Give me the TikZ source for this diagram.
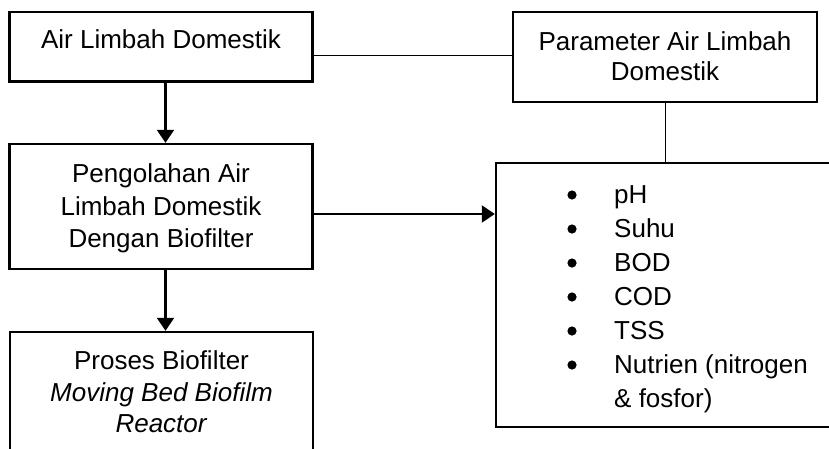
\documentclass[tikz,border=0pt]{standalone}
\usepackage{fontspec}
\setmainfont{Liberation Sans}
\usetikzlibrary{arrows.meta,calc}
\tikzset{
  box/.style={draw=black, line width=2.4pt, rectangle, inner sep=0pt, fill=none},
  txt/.style={inner sep=0pt, align=center, anchor=north},
  thinline/.style={draw=black, line width=1pt},
  arr/.style={draw=black, line width=2.2pt, -{Triangle[length=13pt,width=17pt]}},
  bul/.style={fill=black},
}
\begin{document}
\begin{tikzpicture}[x=1pt,y=-1pt]
\useasboundingbox (0,0) rectangle (829,448);
\clip (0,0) rectangle (829,448);
% boxes
\node[box, minimum width=303pt, minimum height=69.5pt] (b1) at (161,46.8) {};
\node[box, minimum width=304pt, minimum height=90pt] (b2) at (665,57) {};
\node[box, minimum width=303pt, minimum height=125pt] (b3) at (161,206.5) {};
\node[box, minimum width=344pt, minimum height=263.5pt] (b4) at (668,295) {};
\node[box, minimum width=303pt, minimum height=130pt] (b5) at (161.5,397) {};
% texts
\node[txt, font=\fontsize{26}{30}\selectfont] (t1) at (161,29.3) {Air Limbah Domestik};
\node[txt, font=\fontsize{26}{30}\selectfont] (t2) at (665,31) {Parameter Air Limbah\\Domestik};
\node[txt, font=\fontsize{26}{32.5}\selectfont] (t3) at (161,163.5) {Pengolahan Air\\Limbah Domestik\\Dengan Biofilter};
\node[txt, font=\fontsize{26}{31.5}\selectfont] (t5) at (161.5,350.5) {Proses Biofilter\\\textit{Moving Bed Biofilm}\\\textit{Reactor}};
\node[inner sep=0pt, anchor=north west, font=\fontsize{26}{34}\selectfont] (t4) at (614,179.2)
  {\begin{tabular}{@{}l@{}}
   pH\\
   Suhu\\
   BOD\\
   COD\\
   TSS\\
   Nutrien (nitrogen\\
   \& fosfor)
   \end{tabular}};
% bullets
\foreach \i in {0,...,5}
  \fill[bul] ($(t4.north west)+(-42,15.8+34*\i)$) circle (4.6pt);
% connectors
\coordinate (m1) at (312,55);
\coordinate (ax) at (165.5,0);
\coordinate (m3) at (0,214);
\draw[thinline] (b1.east |- m1) -- (b2.west |- m1);
\draw[thinline] (b2.south) -- (b2.south |- b4.north);
\draw[arr] (b1.south -| ax) -- (b3.north -| ax);
\draw[arr] (b3.south -| ax) -- (b5.north -| ax);
\draw[arr] (b3.east |- m3) -- (b4.west |- m3);
\end{tikzpicture}
\end{document}
